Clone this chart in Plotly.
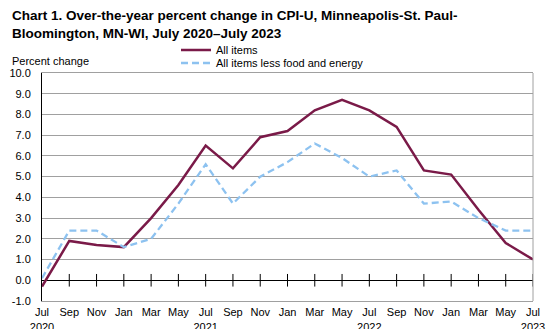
import plotly.graph_objects as go

months = ["Jul", "Sep", "Nov", "Jan", "Mar", "May", "Jul", "Sep", "Nov", "Jan",
          "Mar", "May", "Jul", "Sep", "Nov", "Jan", "Mar", "May", "Jul"]
years = {0: "2020", 6: "2021", 12: "2022", 18: "2023"}
all_items = [-0.3, 1.9, 1.7, 1.6, 3.0, 4.6, 6.5, 5.4, 6.9, 7.2,
             8.2, 8.7, 8.2, 7.4, 5.3, 5.1, 3.4, 1.8, 1.0]
core = [0.1, 2.4, 2.4, 1.6, 2.0, 3.7, 5.6, 3.7, 5.0, 5.7,
        6.6, 5.9, 5.0, 5.3, 3.7, 3.8, 3.0, 2.4, 2.4]
y_ticks = [-1.0 + i for i in range(12)]

idx = list(range(len(months)))
ticktext = [m + ("<br>" + years[i] if i in years else "") for i, m in enumerate(months)]

FONT = "Liberation Sans, Arial, sans-serif"
PB, PH, PL, PW = 301, 228, 42, 491  # plot bottom px, height, left px, width


def py(px):
    return (PB - px) / PH


def px_(x):
    return (x - PL) / PW


fig = go.Figure()
# tick marks on zero line
fig.add_trace(go.Scatter(x=idx[1:], y=[0] * (len(idx) - 1), mode="markers",
                         marker=dict(symbol="line-ns-open", size=9, color="black",
                                     line=dict(width=1, color="black")),
                         showlegend=False, hoverinfo="skip"))
fig.add_trace(go.Scatter(x=idx, y=all_items, mode="lines", name="All items",
                         line=dict(color="#7A1A48", width=2.5), legend="legend"))
fig.add_trace(go.Scatter(x=idx, y=core, mode="lines", name="All items less food and energy",
                         line=dict(color="#8DC2F0", width=2.3, dash="7px,4px"), legend="legend2"))

leg_common = dict(xanchor="left", yanchor="middle", bgcolor="rgba(0,0,0,0)",
                  font=dict(family=FONT, size=11), itemwidth=30)
fig.update_layout(
    width=560, height=329,
    margin=dict(l=PL, r=27, t=73, b=28),
    paper_bgcolor="white", plot_bgcolor="white",
    font=dict(family=FONT, size=11, color="black"),
    legend=dict(x=px_(176), y=py(50), **leg_common),
    legend2=dict(x=px_(176), y=py(63), **leg_common),
    showlegend=True,
    annotations=[
        dict(text="<b>Chart 1. Over-the-year percent change in CPI-U, Minneapolis-St. Paul-<br>Bloomington, MN-WI, July 2020\u2013July 2023</b>",
             xref="paper", yref="paper", x=px_(10), y=py(6), xanchor="left", yanchor="top",
             align="left", showarrow=False, font=dict(family=FONT, size=13.5, color="black")),
        dict(text="Percent change", xref="paper", yref="paper",
             x=px_(10), y=py(69), xanchor="left", yanchor="bottom",
             showarrow=False, font=dict(size=11))],
    shapes=[dict(type="line", xref="paper", yref="paper", x0=1, x1=1, y0=0, y1=1,
                 line=dict(color="#A0A0A0", width=1))],
)
fig.update_xaxes(range=[0, len(idx) - 1], tickmode="array", tickvals=idx, ticktext=ticktext,
                 showgrid=False, showline=True, linecolor="#A0A0A0", linewidth=1, mirror=True,
                 ticks="", tickangle=0, zeroline=False, fixedrange=True, automargin=False,
                 ticklabelstandoff=1)
fig.update_yaxes(range=[-1, 10], tickmode="array", tickvals=y_ticks,
                 ticktext=[f"{v:.1f}" for v in y_ticks],
                 showgrid=True, gridcolor="#A0A0A0", gridwidth=1,
                 zeroline=True, zerolinecolor="black", zerolinewidth=1,
                 showline=True, linecolor="black", linewidth=1, ticks="",
                 ticklabelstandoff=8, automargin=False)

fig.write_html("out.html")
